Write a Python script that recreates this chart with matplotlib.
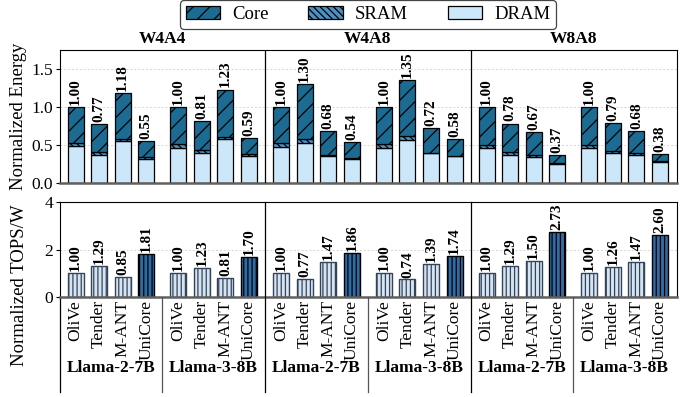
import numpy as np
import matplotlib.pyplot as plt
from matplotlib.patches import Patch
from matplotlib.lines import Line2D

plt.rcParams['font.family'] = ['Liberation Serif', 'DejaVu Serif']
plt.rcParams['hatch.linewidth'] = 0.9

# ---------------- data ----------------
precisions = ["W4A4", "W4A8", "W8A8"]
models = ["Llama-2-7B", "Llama-3-8B"]
designs = ["OliVe", "Tender", "M-ANT", "UniCore"]

# normalized energy (total), one row per (precision, model)
energy_total = [
    [1.00, 0.77, 1.18, 0.55], [1.00, 0.81, 1.23, 0.59],
    [1.00, 1.30, 0.68, 0.54], [1.00, 1.35, 0.72, 0.58],
    [1.00, 0.78, 0.67, 0.37], [1.00, 0.79, 0.68, 0.38],
]
energy_dram = [
    [0.485, 0.367, 0.55, 0.32], [0.467, 0.39, 0.576, 0.36],
    [0.476, 0.528, 0.358, 0.32], [0.467, 0.56, 0.39, 0.354],
    [0.454, 0.37, 0.345, 0.253], [0.454, 0.39, 0.37, 0.27],
]
energy_sram = [
    [0.045, 0.043, 0.035, 0.016], [0.048, 0.04, 0.031, 0.02],
    [0.044, 0.052, 0.012, 0.01], [0.048, 0.06, 0.01, 0.006],
    [0.052, 0.035, 0.022, 0.013], [0.046, 0.03, 0.02, 0.014],
]
tops_w = [
    [1.00, 1.29, 0.85, 1.81], [1.00, 1.23, 0.81, 1.70],
    [1.00, 0.77, 1.47, 1.86], [1.00, 0.74, 1.39, 1.74],
    [1.00, 1.29, 1.50, 2.73], [1.00, 1.26, 1.47, 2.60],
]

# ---------------- style ----------------
c_core = "#1b6b93"
c_sram = "#4b92c3"
c_dram = "#cde7fa"
c_base = "#d6e4f2"
c_base_edge = "#33435a"
c_uni = "#2f6ca6"
grid_kw = dict(color="#d5d5d5", linestyle=(0, (2, 2)), linewidth=0.7, zorder=0)
val_fs = 11

gap = 1.36
width = 0.68
n_groups = len(energy_total)
pos = np.array([[g * (3 + gap) + i for i in range(4)] for g in range(n_groups)])
xmin, xmax = -0.66, pos[-1, -1] + 0.72

fig = plt.figure(figsize=(6.94, 3.97), dpi=100)
ax1 = fig.add_axes([60 / 694, (397 - 183) / 397, 617 / 694, 133 / 397])
ax2 = fig.add_axes([60 / 694, (397 - 297) / 397, 617 / 694, 95 / 397])

# ---------------- energy breakdown ----------------
for g in range(n_groups):
    tot = np.array(energy_total[g])
    dram = np.array(energy_dram[g])
    sram = np.array(energy_sram[g])
    core = tot - dram - sram
    x = pos[g]
    ax1.bar(x, dram, width, color=c_dram, edgecolor="black", linewidth=0.9, zorder=2)
    ax1.bar(x, sram, width, bottom=dram, color=c_sram, edgecolor="black",
            linewidth=0.9, hatch="\\\\\\\\\\", zorder=2)
    ax1.bar(x, core, width, bottom=dram + sram, color=c_core, edgecolor="black",
            linewidth=0.9, hatch="//", zorder=2)
    for xi, v in zip(x, tot):
        ax1.text(xi, v + 0.03, f"{v:.2f}", rotation=90, ha="center", va="bottom",
                 fontsize=val_fs, fontweight="bold")

ax1.set_xlim(xmin, xmax)
ax1.set_ylim(0, 1.75)
ax1.set_yticks([0.0, 0.5, 1.0, 1.5])
ax1.set_yticklabels(["0.0", "0.5", "1.0", "1.5"])
ax1.set_xticks([])
ax1.tick_params(axis="y", labelsize=12.5, length=3, pad=2)
for y in [0.5, 1.0, 1.5]:
    ax1.axhline(y, **grid_kw)
ax1.spines["bottom"].set_color("#606060")
ax1.spines["bottom"].set_linewidth(1.8)
ax1.set_ylabel("Normalized Energy", fontsize=13.5, labelpad=3)

# precision dividers and headers
for p in range(len(precisions)):
    g0, g1 = 2 * p, 2 * p + 1
    xc = (pos[g0, 0] + pos[g1, -1]) / 2
    ax1.text(xc, 1.79, precisions[p], ha="center", va="bottom", fontsize=12.5,
             fontweight="bold")
    if p > 0:
        xd = (pos[g0 - 1, -1] + pos[g0, 0]) / 2
        ax1.axvline(xd, color="black", linewidth=0.9, zorder=3)

# ---------------- TOPS/W ----------------
for g in range(n_groups):
    vals = tops_w[g]
    x = pos[g]
    for i, (xi, v) in enumerate(zip(x, vals)):
        if designs[i] == "UniCore":
            fc, ec = c_uni, "black"
        else:
            fc, ec = c_base, c_base_edge
        ax2.bar(xi, v, width, color=fc, edgecolor=ec, linewidth=1.0,
                hatch="||||", zorder=2)
        ax2.text(xi, v + 0.08, f"{v:.2f}", rotation=90, ha="center", va="bottom",
                 fontsize=val_fs, fontweight="bold")

ax2.set_xlim(xmin, xmax)
ax2.set_ylim(0, 4)
ax2.set_yticks([0, 2, 4])
ax2.tick_params(axis="y", labelsize=12.5, length=3, pad=2)
ax2.axhline(2, **grid_kw)
ax2.spines["bottom"].set_color("#606060")
ax2.spines["bottom"].set_linewidth(1.8)
ax2.set_xticks(pos.ravel())
ax2.set_xticklabels(designs * n_groups, rotation=90, fontsize=12.5)
ax2.tick_params(axis="x", length=0, pad=2)

# model labels and dividers below the axis
trans = ax2.get_xaxis_transform()
for g in range(n_groups):
    xc = pos[g].mean()
    ax2.text(xc, -0.75, models[g % 2], transform=trans, ha="center", va="center",
             fontsize=12.5, fontweight="bold")
    if g > 0:
        xd = (pos[g - 1, -1] + pos[g, 0]) / 2
        if g % 2 == 0:
            ax2.add_line(Line2D([xd, xd], [-1, 1], transform=trans, color="black",
                                linewidth=0.9, clip_on=False, zorder=3))
        else:
            ax2.add_line(Line2D([xd, xd], [-1, 0], transform=trans, color="#555555",
                                linewidth=0.9, clip_on=False, zorder=3))
ax2.add_line(Line2D([xmin, xmin], [-1, 0], transform=trans, color="black",
                    linewidth=0.9, clip_on=False))
fig.text(20 / 694, 1 - 285 / 397, "Normalized TOPS/W", rotation=90,
         ha="center", va="center", fontsize=13.5)

# ---------------- legend ----------------
handles = [
    Patch(facecolor=c_core, edgecolor="black", hatch="//", linewidth=0.9, label="Core"),
    Patch(facecolor=c_sram, edgecolor="black", hatch="\\\\\\\\\\", linewidth=0.9, label="SRAM"),
    Patch(facecolor=c_dram, edgecolor="black", linewidth=0.9, label="DRAM"),
]
leg = fig.legend(handles=handles, loc="center", bbox_to_anchor=(368 / 694, 1 - 14.5 / 397),
                 ncol=3, fontsize=13.5, frameon=True, fancybox=True, handlelength=1.85,
                 handleheight=0.7, columnspacing=2.1, handletextpad=0.65,
                 borderpad=0.3, edgecolor="#444444", framealpha=1)
leg.get_frame().set_linewidth(0.9)

fig.savefig("out.png", dpi=100)
